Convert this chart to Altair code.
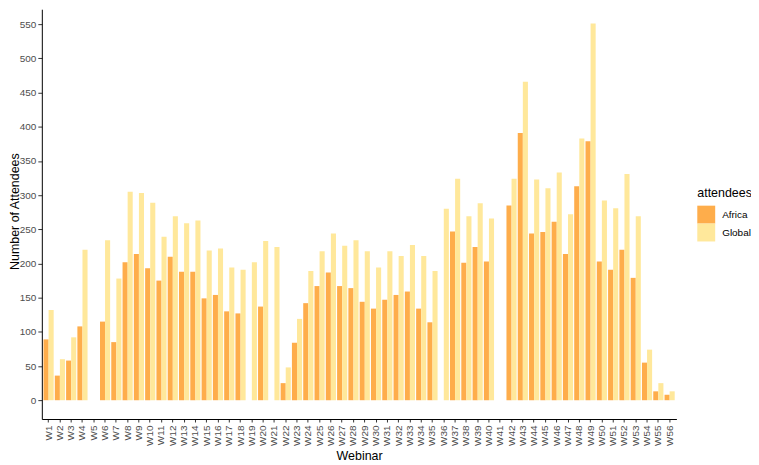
import altair as alt
import pandas as pd

webinars = [f"W{i}" for i in range(1, 57)]

africa = [89, 36, 58, 108, None, 115, 85, 202, 214, 193,
          175, 210, 188, 188, 149, 154, 130, 127, None, 137,
          None, 25, 84, 142, 167, 187, 167, 164, 144, 134,
          147, 154, 159, 134, 114, None, 247, 201, 224, 203,
          None, 285, 391, 244, 246, 261, 214, 313, 379, 203,
          191, 220, 179, 55, 13, 8]

global_ = [132, 60, 92, 220, None, 234, 178, 305, 303, 289,
           239, 269, 259, 263, 219, 222, 194, 191, 202, 233,
           224, 48, 119, 189, 218, 244, 226, 234, 218, 194,
           218, 211, 227, 211, 189, 280, 324, 269, 288, 266,
           None, 324, 466, 323, 310, 333, 272, 383, 551, 292,
           281, 331, 269, 74, 25, 13]

groups = ["Africa", "Global"]
colors = ["#FEAD4B", "#FFE89B"]
y_ticks = list(range(0, 551, 50))

rows = []
for w, a, g in zip(webinars, africa, global_):
    if a is not None:
        rows.append({"Webinar": w, "attendees": "Africa", "value": a})
    if g is not None:
        rows.append({"Webinar": w, "attendees": "Global", "value": g})
df = pd.DataFrame(rows)

FONT = "Arial, Liberation Sans"

chart = alt.Chart(df).mark_bar().encode(
    x=alt.X("Webinar:N", sort=webinars,
            scale=alt.Scale(domain=webinars, paddingInner=0.1, paddingOuter=0.15),
            axis=alt.Axis(title="Webinar", labelAngle=-90, labelFontSize=10,
                          labelColor="#4D4D4D", labelFont=FONT,
                          labelPadding=3, tickSize=3, tickColor="#333333",
                          domainColor="#000000", titleFontSize=12.5,
                          titleFont=FONT, titleFontWeight="normal",
                          titleColor="#000000", titlePadding=4)),
    xOffset=alt.XOffset("attendees:N", sort=groups,
                        scale=alt.Scale(paddingInner=0, paddingOuter=0)),
    y=alt.Y("value:Q", stack=None,
            scale=alt.Scale(domain=[-27.5, 572], nice=False, zero=False),
            axis=alt.Axis(title="Number of Attendees", values=y_ticks, grid=False,
                          labelFontSize=10, labelColor="#4D4D4D",
                          labelFont=FONT, labelPadding=2,
                          tickSize=4, tickColor="#333333", domainColor="#000000",
                          titleFontSize=12.5, titleFont=FONT,
                          titleFontWeight="normal", titleColor="#000000",
                          titleX=-20, titleY=203)),
    y2=alt.datum(0),
    color=alt.Color("attendees:N", sort=groups,
                    scale=alt.Scale(domain=groups, range=colors),
                    legend=alt.Legend(title="attendees", orient="none",
                                      legendX=659, legendY=179,
                                      symbolType="square", symbolSize=324,
                                      symbolStrokeWidth=0, symbolOpacity=1,
                                      rowPadding=0, padding=0,
                                      labelFontSize=10, labelFont=FONT,
                                      labelColor="#000000", labelOffset=7,
                                      titleFontSize=12.5, titleFont=FONT,
                                      titleFontWeight="normal", titleColor="#000000",
                                      titlePadding=6)),
).properties(
    width=638,
    height=412,
    autosize=alt.AutoSizeParams(type="none"),
    padding={"left": 34, "top": 0, "right": 75, "bottom": 45},
).configure_view(stroke=None).configure_axis(grid=False)

chart.save("out.html", embed_options={"renderer": "svg", "actions": False})
